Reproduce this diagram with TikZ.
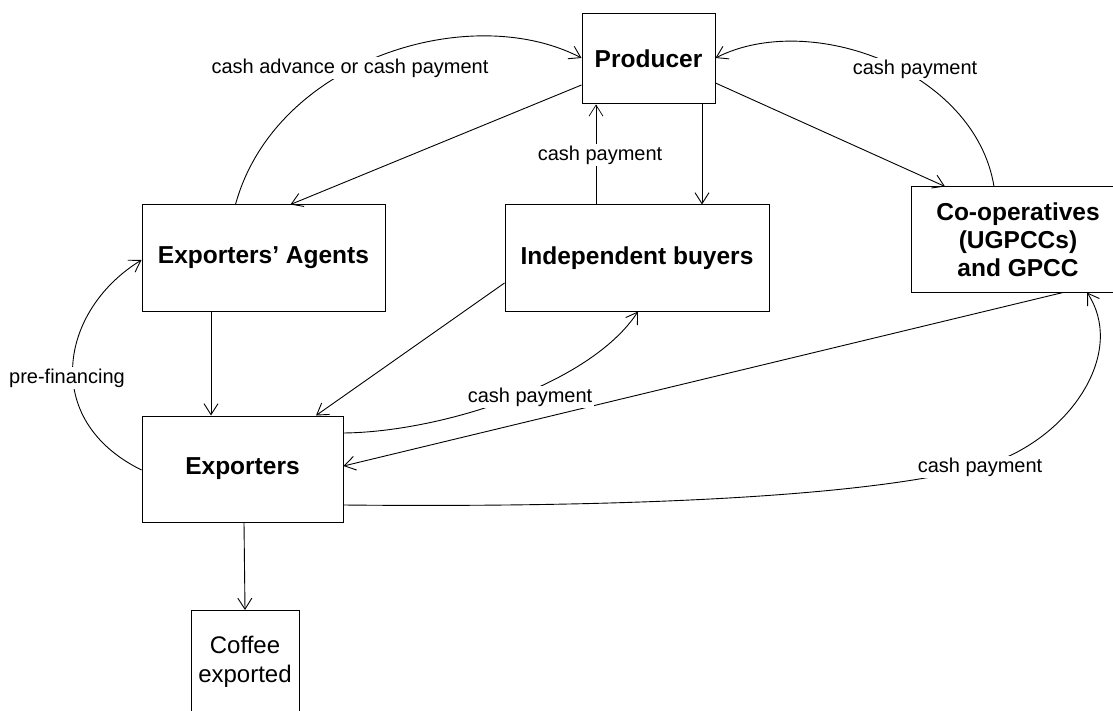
\documentclass[tikz,border=0pt]{standalone}
\usepackage{fontspec}
\setmainfont{Liberation Sans}
\usetikzlibrary{arrows.meta}
\begin{document}
\begin{tikzpicture}[x=1pt,y=-1pt,
  box/.style={draw,line width=1pt,inner sep=0pt,align=center},
  bold/.style={font=\fontsize{24.5}{28}\selectfont\bfseries},
  lbl/.style={font=\fontsize{20}{24}\selectfont,fill=white,inner sep=1.5pt},
  conn/.style={line width=0.9pt,-{Straight Barb[length=11pt,width=14pt]}}]
\useasboundingbox (0,0) rectangle (1113,711);
\clip (0,0) rectangle (1113,711);
% nodes
\node[box,bold,minimum width=133pt,minimum height=90pt] (prod) at (648.5,59) {Producer};
\node[box,bold,minimum width=243pt,minimum height=106pt] (agents) at (263.5,258) {Exporters’ Agents};
\node[box,bold,minimum width=264pt,minimum height=106pt] (indep) at (637,258) {Independent buyers};
\node[box,bold,minimum width=214pt,minimum height=105pt] (coop) at (1018,239.5) {Co-operatives\\(UGPCCs)\\and GPCC};
\node[box,bold,minimum width=201pt,minimum height=106pt] (exp) at (242.5,469) {Exporters};
\node[box,minimum width=108pt,minimum height=120pt,anchor=north] (coffee) at (245,610) {};
\node[font=\fontsize{24}{29}\selectfont,align=center] (coffeetxt) at (245,662) {Coffee\\exported};
% connectors
\draw[conn] ([yshift=-26pt]prod.west) -- ([xshift=27pt]agents.north);
\draw[conn] ([xshift=-28pt]agents.north) .. controls (275,60) and (470,0) .. ([yshift=1pt]prod.west);
\draw[conn] ([xshift=53.5pt]prod.south) -- ([xshift=65pt]indep.north);
\draw[conn,line width=0.7pt] ([xshift=-41pt]indep.north) -- ([xshift=-52.5pt]prod.south);
\draw[conn] ([yshift=-24pt]prod.east) -- ([xshift=-73pt]coop.north);
\draw[conn] ([xshift=-24pt]coop.north) .. controls (975,70) and (810,10) .. ([yshift=1pt]prod.east);
\draw[conn] ([xshift=-52.5pt]agents.south) -- ([xshift=-31.5pt]exp.north);
\draw[conn] ([yshift=-1pt]exp.west) .. controls (40,420) and (60,310) .. ([yshift=-2pt]agents.west);
\draw[conn] ([yshift=-25pt]indep.west) -- ([xshift=73.5pt]exp.north);
\draw[conn] ([yshift=36pt]exp.east) .. controls (440,432) and (590,385) .. ([xshift=1pt]indep.south);
\draw[conn] ([xshift=45pt]coop.south) -- ([yshift=3pt]exp.east);
\draw[conn] ([yshift=-36pt]exp.east) .. controls (650,508) and (900,495) .. (1000,460)
   .. controls (1075,430) and (1125,350) .. ([xshift=69pt]coop.south);
\draw[conn] ([xshift=1.5pt]exp.south) -- (coffee.north);
% labels
\node[lbl] (l1) at (350,68) {cash advance or cash payment};
\node[lbl] (l2) at (915,69) {cash payment};
\node[lbl] (l3) at (600,155) {cash payment};
\node[lbl] (l4) at (67,378) {pre-financing};
\node[lbl] (l5) at (530,397) {cash payment};
\node[lbl] (l6) at (980,467) {cash payment};
\end{tikzpicture}
\end{document}
